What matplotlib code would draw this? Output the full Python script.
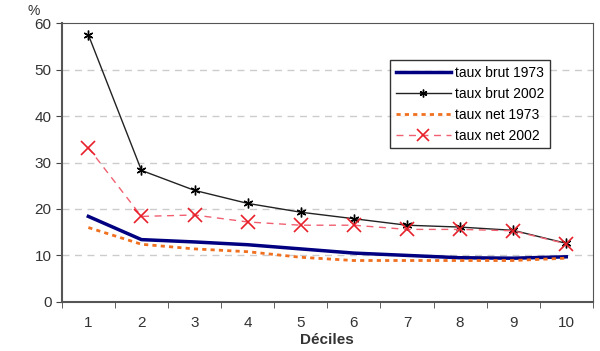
import numpy as np
import matplotlib.pyplot as plt

plt.rcParams['font.family'] = ['Liberation Sans', 'DejaVu Sans']

deciles = [1, 2, 3, 4, 5, 6, 7, 8, 9, 10]
brut_1973 = [18.4, 13.4, 12.9, 12.3, 11.4, 10.5, 10.0, 9.5, 9.4, 9.7]
brut_2002 = [57.5, 28.3, 24.0, 21.2, 19.3, 17.9, 16.5, 16.1, 15.4, 12.6]
net_1973 = [16.0, 12.4, 11.4, 10.8, 9.6, 8.9, 8.9, 8.9, 8.9, 9.4]
net_2002 = [33.2, 18.4, 18.7, 17.2, 16.5, 16.5, 15.6, 15.6, 15.3, 12.5]

fig = plt.figure(figsize=(6, 3.51), dpi=100)
ax = fig.add_axes([0.103, 0.14, 0.885, 0.794])

ax.plot(deciles, brut_1973, color='#000080', lw=2.5, label='taux brut 1973')
ax.plot(deciles, brut_2002, color='#222222', lw=1, marker=(6, 2, 0), markersize=7,
        markeredgecolor='black', markeredgewidth=1, label='taux brut 2002')
ax.plot(deciles, net_1973, color='#f07020', lw=2, ls=(0, (1.5, 1.5)), label='taux net 1973')
ax.plot(deciles, net_2002, color='#f06070', lw=1, ls=(0, (5, 4)), marker='x', markersize=10,
        markeredgecolor='#e8202a', markeredgewidth=1.2, label='taux net 2002')

ax.set_xlim(0.5, 10.5)
ax.set_ylim(0, 60)
ax.set_yticks(range(0, 61, 10))
ax.set_xticks(deciles)
ax.set_xticks(np.arange(0.5, 11, 1), minor=True)
ax.tick_params(axis='x', which='major', length=0, pad=10)
ax.tick_params(axis='x', which='minor', length=4, direction='out', color='#444444')
ax.tick_params(axis='y', length=4, direction='out', color='#444444')
ax.tick_params(labelsize=11, labelcolor='#333333')
for yv in range(10, 60, 10):
    ax.axhline(yv, color='#cccccc', lw=1, ls=(0, (5, 4)), zorder=0)
for s in ax.spines.values():
    s.set_color('#555555')
ax.spines['left'].set_linewidth(1.5)
ax.spines['bottom'].set_linewidth(1.5)

ax.set_xlabel('Déciles', fontsize=11, fontweight='bold', color='#333333', labelpad=2)
fig.text(0.045, 0.97, '%', fontsize=10, color='#333333', ha='left', va='center')

leg = ax.legend(loc='upper left', bbox_to_anchor=(0.618, 0.867), borderaxespad=0,
                fontsize=10, frameon=True, fancybox=False, edgecolor='black',
                handlelength=4, borderpad=0.4, labelspacing=0.5, handletextpad=0.3,
                markerscale=0.8)
leg.get_frame().set_linewidth(1)

fig.savefig('out.png', dpi=100)
